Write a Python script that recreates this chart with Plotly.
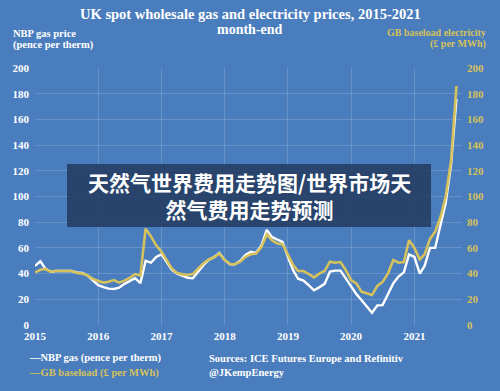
import plotly.graph_objects as go
import pandas as pd

months = pd.date_range("2015-01-01", periods=81, freq="MS")

gas = [46, 49.5, 44, 41.5, 42, 42, 42.3, 42, 41, 40.5, 38.5, 34.5,
       31, 29.5, 28.3, 28, 29, 32, 34.5, 36.5, 32.5, 50, 48.5, 53,
       55, 48.5, 43, 40, 38.3, 36.8, 36.3, 41.5, 46.7, 50.6, 53, 56,
       50.6, 47.3, 47.3, 50, 54.5, 57, 56, 62, 74, 68.5, 66.7, 64.7,
       53, 42.5, 36, 34.5, 31, 27, 29.3, 32, 41.5, 42.3, 42.3, 36.3,
       29.8, 24, 19.5, 14.8, 9.5, 15.3, 15.5, 24, 32.4, 37.6, 41, 55,
       53, 40, 46, 60, 60, 78, 95, 125, 176]

power = [41, 43, 43.6, 41.5, 42, 42, 42.3, 42, 40.5, 40, 38.5, 36,
         34.3, 33, 33.6, 35, 33, 34.5, 36.6, 39.6, 38.5, 75, 69, 62,
         57, 50, 44, 40.5, 39.4, 38.9, 39.6, 44, 48, 51, 52.7, 55.6,
         50.6, 47.3, 47.3, 49.3, 53, 55, 55.6, 60.7, 70.5, 66, 63.4, 62.9,
         54.5, 46.7, 42, 42, 39.7, 37, 40, 42, 49.3, 48.5, 49, 42.8,
         35, 32.4, 26, 24.6, 23.3, 30.4, 33.5, 40, 50.6, 48.5, 49, 66,
         60, 51, 55, 67, 72.6, 84, 100, 128, 186]

y_ticks = [0, 20, 40, 60, 80, 100, 120, 140, 160, 180, 200]

BG = "#4a7dbd"
GOLD = "#d5c25c"
GRID = "rgba(255,255,255,0.16)"
SERIF = "Liberation Serif"

fig = go.Figure()
fig.add_trace(go.Scatter(x=months, y=power, mode="lines", name="GB baseload (£ per MWh)",
                         line=dict(color=GOLD, width=2.6), yaxis="y2"))
fig.add_trace(go.Scatter(x=months, y=gas, mode="lines", name="NBP gas (pence per therm)",
                         line=dict(color="white", width=2.4)))

tickfont_l = dict(family=SERIF, size=11, color="white", weight="bold")
tickfont_r = dict(family=SERIF, size=11, color=GOLD, weight="bold")

fig.update_layout(
    width=500, height=391,
    paper_bgcolor=BG, plot_bgcolor=BG,
    margin=dict(l=35, r=38, t=68, b=66),
    showlegend=False,
    xaxis=dict(range=["2015-01-01", "2021-10-03"], dtick="M12", tick0="2015-01-01",
               tickformat="%Y", showgrid=True, gridcolor=GRID, gridwidth=1,
               zeroline=False, showline=False, ticks="", ticklabelstandoff=3,
               tickfont=tickfont_l),
    yaxis=dict(range=[0, 200], tickvals=y_ticks, showgrid=True, gridcolor=GRID,
               zeroline=False, showline=False, ticks="", ticklabelstandoff=5,
               tickfont=tickfont_l),
    yaxis2=dict(range=[0, 200], tickvals=y_ticks, overlaying="y", side="right",
                showgrid=False, zeroline=False, showline=False, ticks="",
                ticklabelstandoff=4, tickfont=tickfont_r),
)

def txt(x, y, s, color="white", size=10.5, xanchor="left", family=SERIF, weight="bold"):
    fig.add_annotation(x=x, y=y, xref="paper", yref="paper", text=s, showarrow=False,
                       xanchor=xanchor, yanchor="middle",
                       font=dict(family=family, size=size, color=color, weight=weight))

# paper coordinate helpers from pixel positions
def px(xp):
    return (xp - 35) / 427.0

def py(yp):
    return (325 - yp) / 257.0

txt(px(250), py(13.5), "UK spot wholesale gas and electricity prices, 2015-2021", size=14.5, xanchor="center")
txt(px(250), py(29), "month-end", size=14, xanchor="center")
txt(px(11), py(33), "NBP gas price")
txt(px(11), py(45), "(pence per therm)")
txt(px(488), py(32), "GB baseload electricity", color=GOLD, size=10, xanchor="right")
txt(px(488), py(44), "(£ per MWh)", color=GOLD, size=10, xanchor="right")
txt(px(27), py(358), "—NBP gas (pence per therm)")
txt(px(27), py(373), "—GB baseload (£ per MWh)", color=GOLD)
txt(px(207), py(358), "Sources: ICE Futures Europe and Refinitiv")
txt(px(207), py(372), "@JKempEnergy")

# overlay banner
fig.add_shape(type="rect", xref="paper", yref="paper",
              x0=px(67), x1=px(431), y0=py(227), y1=py(164),
              fillcolor="rgba(35,58,95,0.86)", line=dict(width=0), layer="above")
fig.add_annotation(x=px(249), y=py(195), xref="paper", yref="paper",
                   text="天然气世界费用走势图/世界市场天<br>然气费用走势预测",
                   showarrow=False, xanchor="center", yanchor="middle",
                   font=dict(family="Noto Sans CJK SC", size=21, color="white", weight="bold"))

fig.write_html("out.html", config={"displayModeBar": False},
               post_script="document.body.style.margin='0';document.body.style.overflow='hidden';")
